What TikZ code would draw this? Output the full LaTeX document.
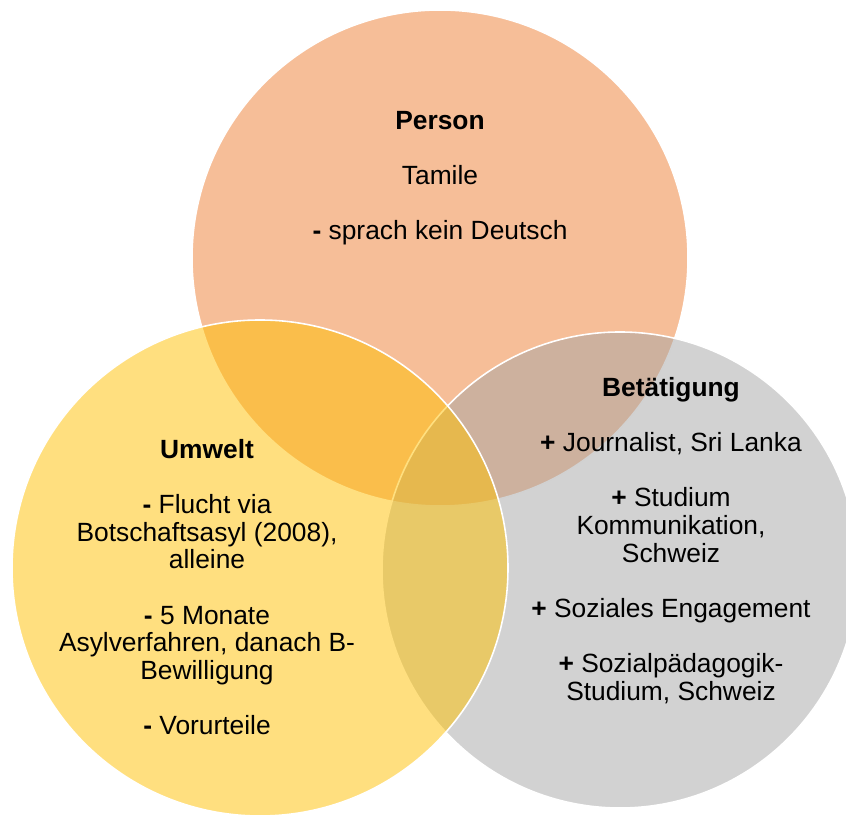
\documentclass[tikz,border=0pt]{standalone}
\usepackage{fontspec}
\setmainfont{Liberation Sans}
\usepackage{xcolor}
\definecolor{personorange}{HTML}{ED7D31}
\definecolor{umweltgold}{HTML}{FFC000}
\definecolor{taetiggrey}{HTML}{A5A5A5}
\tikzset{
  venn/.style={fill opacity=0.5, draw=white, line width=0.9pt},
  venntext/.style={align=center, inner sep=0pt, font=\fontsize{15}{15.7}\selectfont}
}

\begin{document}
\begin{tikzpicture}
 \path[use as bounding box] (0,0) rectangle (16.92,16.32);
 \clip (0,0) rectangle (16.92,16.32);
\filldraw[venn, fill=personorange] (8.8,11.16) circle [radius=4.96];
\filldraw[venn, fill=taetiggrey] (12.4,4.92) circle [radius=4.76];
\filldraw[venn, fill=umweltgold] (5.2,4.96) circle [radius=4.96];

\node[venntext] (person) at (8.8,12.76) {\textbf{Person}\\[15.7pt]
  Tamile\\[15.7pt]
  \textbf{-} sprach kein Deutsch};

\node[venntext] (umwelt) at (4.14,4.58) {\textbf{Umwelt}\\[15.7pt]
  \textbf{-} Flucht via\\ Botschaftsasyl (2008),\\ alleine\\[15.7pt]
  \textbf{-} 5 Monate\\ Asylverfahren, danach B-\\ Bewilligung\\[15.7pt]
  \textbf{-} Vorurteile};

\node[venntext] (betaetigung) at (13.42,5.51) {\textbf{Betätigung}\\[15.7pt]
  \textbf{+} Journalist, Sri Lanka\\[15.7pt]
  \textbf{+} Studium\\ Kommunikation,\\ Schweiz\\[15.7pt]
  \textbf{+} Soziales Engagement\\[15.7pt]
  \textbf{+} Sozialpädagogik-\\ Studium, Schweiz};

\end{tikzpicture}
\end{document}
